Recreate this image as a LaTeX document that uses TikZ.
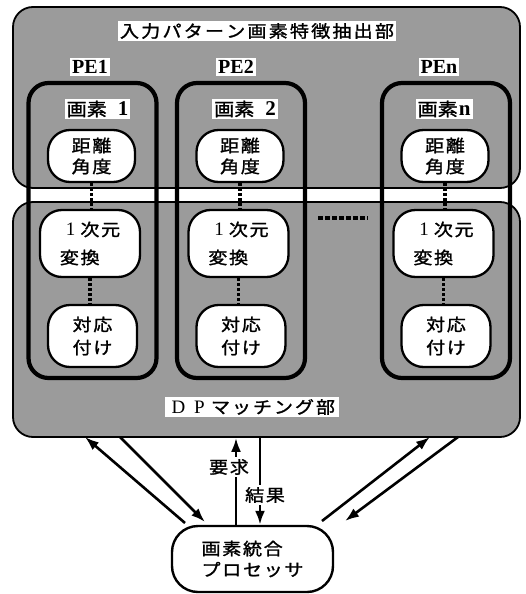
\documentclass[tikz,border=0pt]{standalone}
\usepackage{fontspec}
\setmainfont{Liberation Serif}
\newfontfamily\jp{Noto Sans CJK JP}[FakeStretch=1.12,FakeBold=1.4]
\newfontfamily\jpw{Noto Sans CJK JP}[FakeStretch=1.12,LetterSpace=10,FakeBold=1.4]
\usetikzlibrary{arrows.meta}
\definecolor{dither}{RGB}{155,155,155}
\newcommand\cbx[1]{\makebox[21pt]{#1}}
\begin{document}
\begin{tikzpicture}[x=1pt,y=-1pt,
  big/.style={draw, line width=1.8pt, rounded corners=20pt, fill=dither, inner sep=0pt},
  pebox/.style={draw, line width=4.2pt, rounded corners=20pt, minimum width=128pt, minimum height=295pt, inner sep=0pt},
  innerbox/.style={draw, line width=2.3pt, fill=white, rounded corners=22pt, inner sep=0pt, align=left, font=\jpw\fontsize{17}{21}\selectfont},
  lbl/.style={fill=white, inner sep=2pt},
  pelbl/.style={lbl, font=\rmfamily\bfseries\fontsize{20}{20}\selectfont},
  gslbl/.style={lbl, font=\jp\fontsize{18}{18}\selectfont},
  dotline/.style={line width=3.6pt, dash pattern=on 3pt off 2pt},
  arr/.style={line width=2.6pt, -{Latex[length=14pt,width=10pt]}},
]
\useasboundingbox (0,0) rectangle (526,594);

% two large shaded units
\node[big, minimum width=507pt, minimum height=181pt] (top) at (266.5,97.5) {};
\node[big, minimum width=507pt, minimum height=235pt] (dp) at (266.5,319.5) {};

% titles
\node[lbl, font=\jp\fontsize{17}{17}\selectfont] (title) at (257,31)
  {\makebox[274pt][s]{入\hfil 力\hfil パ\hfil タ\hfil ー\hfil ン\hfil 画\hfil 素\hfil 特\hfil 徴\hfil 抽\hfil 出\hfil 部}};
\node[lbl, font=\jp\fontsize{17}{17}\selectfont, inner xsep=3pt] (dptitle) at (252,407)
  {\cbx{\rmfamily\fontsize{19}{19}\selectfont D}\cbx{\rmfamily\fontsize{19}{19}\selectfont P}\cbx{マ}\cbx{ッ}\cbx{チ}\cbx{ン}\cbx{グ}\cbx{部}};

% processing element columns
\foreach \c/\n in {92.5/1, 241/2, 446/3} {
  \node[pebox] (pe\n) at (\c,230.5) {};
  \node[innerbox, minimum width=87pt, minimum height=52pt] (k\n) at (\c-1,156) {距離\\角度};
  \node[innerbox, minimum width=100pt, minimum height=67pt] (i\n) at (\c-2.5,243.5)
    {\hspace{6pt}{\rmfamily\fontsize{19}{19}\selectfont 1}\hspace{5pt}次元\\[7pt]変換};
  \node[innerbox, minimum width=89pt, minimum height=62pt] (t\n) at (\c,336) {対応\\[2pt]付け};
  \draw[dotline] (k\n.south) -- (k\n.south |- i\n.north);
  \draw[dotline] (i\n.south) -- (i\n.south |- t\n.north);
}

% column labels
\node[pelbl] (pl1) at (90,67) {PE1};
\node[pelbl] (pl2) at (236,67) {PE2};
\node[pelbl] (pl3) at (439,67) {PEn};
\node[gslbl] (g1) at (97.5,109) {画素\hspace{11pt}{\rmfamily\bfseries\fontsize{21}{21}\selectfont 1}};
\node[gslbl] (g2) at (245,109) {画素\hspace{11pt}{\rmfamily\bfseries\fontsize{21}{21}\selectfont 2}};
\node[gslbl] (g3) at (444,109) {画素\hspace{1pt}{\rmfamily\bfseries\fontsize{21}{21}\selectfont n}};

% ellipsis between columns
\coordinate (ea) at (318,218);
\coordinate (eb) at (368,218);
\draw[line width=4pt, dash pattern=on 5pt off 2pt] (ea) -- (eb);

% integrating processor
\node[draw, line width=2.4pt, rounded corners=26pt, minimum width=161pt, minimum height=66pt,
  inner sep=0pt, align=left, font=\jpw\fontsize{17}{21}\selectfont] (proc) at (252.5,559)
  {画素統合\\プロセッサ};

% request / result
\coordinate (xq) at (236,480);
\coordinate (xr) at (260,480);
\draw[arr] (proc.north -| xq) -- (dp.south -| xq);
\draw[arr] (dp.south -| xr) -- (proc.north -| xr);
\node[lbl, font=\jpw\fontsize{17}{17}\selectfont] (req) at (229,467) {要求};
\node[lbl, font=\jpw\fontsize{17}{17}\selectfont] (res) at (265,495) {結果};

% diagonal links
\coordinate (l1a) at (185,523); \coordinate (l1b) at (85,437);
\coordinate (l2a) at (120,437); \coordinate (l2b) at (205,522);
\coordinate (r1a) at (322,521); \coordinate (r1b) at (430,437);
\coordinate (r2a) at (458,437); \coordinate (r2b) at (345,521);
\draw[arr] (l1a) -- (l1b);
\draw[arr] (l2a) -- (l2b);
\draw[arr] (r1a) -- (r1b);
\draw[arr] (r2a) -- (r2b);
\end{tikzpicture}
\end{document}
